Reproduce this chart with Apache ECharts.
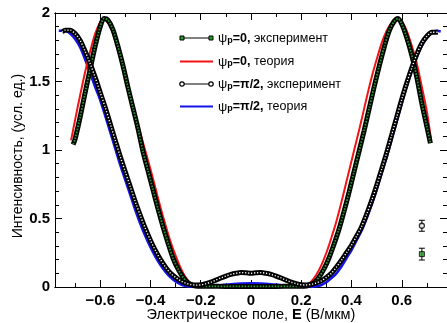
<!DOCTYPE html>
<html>
<head>
<meta charset="utf-8">
<script src="https://cdn.jsdelivr.net/npm/echarts@6/dist/echarts.min.js"></script>
<style>
  html, body { margin: 0; padding: 0; background: #fff; }
  #chart { width: 447px; height: 323px; }
</style>
</head>
<body>
<div id="chart"></div>
<script>
// Electric field, V/um (x) and intensity, arb. units (y)

// psi_p = 0, theory
const theory0X = [-0.716,-0.70,-0.68,-0.66,-0.64,-0.62,-0.60,-0.59,-0.58,-0.56,-0.54,-0.52,-0.50,-0.48,-0.46,-0.44,-0.42,-0.40,-0.38,-0.36,-0.34,-0.32,-0.30,-0.28,-0.26,-0.24,-0.22,-0.20,-0.15,-0.10,-0.05,0,0.05,0.10,0.15,0.20,0.22,0.24,0.26,0.28,0.30,0.32,0.34,0.36,0.38,0.40,0.42,0.44,0.46,0.48,0.50,0.52,0.54,0.56,0.58,0.59,0.60,0.62,0.64,0.66,0.68,0.70,0.716];
const theory0Y = [1.07,1.22,1.40,1.57,1.72,1.85,1.935,1.955,1.95,1.90,1.80,1.67,1.53,1.38,1.24,1.12,0.99,0.86,0.72,0.58,0.45,0.33,0.23,0.14,0.07,0.025,0.005,0,0.001,0.002,0.003,0.003,0.003,0.002,0.001,0,0.01,0.04,0.09,0.16,0.25,0.36,0.48,0.62,0.77,0.92,1.07,1.22,1.38,1.53,1.66,1.78,1.87,1.93,1.955,1.955,1.94,1.87,1.76,1.63,1.46,1.28,1.08];

// psi_p = 0, experiment
const exp0X = [-0.708,-0.70,-0.68,-0.66,-0.64,-0.62,-0.60,-0.585,-0.57,-0.55,-0.53,-0.51,-0.49,-0.47,-0.45,-0.43,-0.41,-0.39,-0.37,-0.35,-0.33,-0.31,-0.29,-0.27,-0.25,-0.23,-0.21,-0.15,-0.10,-0.05,0,0.05,0.10,0.15,0.21,0.23,0.25,0.27,0.29,0.31,0.33,0.35,0.37,0.39,0.41,0.43,0.45,0.47,0.49,0.51,0.53,0.55,0.57,0.585,0.60,0.62,0.64,0.66,0.68,0.70,0.714];
const exp0Y = [1.04,1.08,1.24,1.42,1.59,1.76,1.90,1.96,1.95,1.88,1.76,1.62,1.46,1.31,1.16,0.99,0.85,0.71,0.57,0.44,0.32,0.21,0.13,0.07,0.03,0.012,0.006,0.005,0.004,0.004,0.004,0.004,0.004,0.005,0.006,0.012,0.03,0.07,0.13,0.21,0.31,0.42,0.55,0.69,0.84,0.99,1.14,1.30,1.46,1.61,1.75,1.87,1.94,1.96,1.92,1.82,1.69,1.53,1.34,1.17,1.05];

// psi_p = pi/2, theory
const theory90X = [-0.765,-0.74,-0.72,-0.70,-0.68,-0.66,-0.64,-0.62,-0.60,-0.58,-0.56,-0.54,-0.52,-0.50,-0.48,-0.46,-0.44,-0.42,-0.40,-0.38,-0.36,-0.34,-0.32,-0.30,-0.28,-0.26,-0.24,-0.22,-0.20,-0.16,-0.12,-0.08,-0.04,0,0.04,0.08,0.12,0.16,0.20,0.22,0.24,0.26,0.28,0.30,0.32,0.34,0.36,0.38,0.40,0.42,0.44,0.46,0.48,0.50,0.52,0.54,0.56,0.58,0.60,0.62,0.64,0.66,0.68,0.70,0.72,0.74,0.755];
const theory90Y = [1.87,1.87,1.85,1.81,1.75,1.66,1.56,1.46,1.365,1.25,1.13,1.01,0.89,0.78,0.67,0.56,0.46,0.37,0.29,0.22,0.16,0.11,0.07,0.04,0.02,0.008,0.002,0,0.001,0.006,0.013,0.02,0.025,0.027,0.025,0.02,0.013,0.006,0.001,0,0.001,0.005,0.015,0.035,0.065,0.10,0.15,0.21,0.27,0.34,0.41,0.50,0.60,0.71,0.83,0.95,1.08,1.21,1.34,1.47,1.58,1.68,1.76,1.82,1.855,1.87,1.865];

// psi_p = pi/2, experiment
const exp90X = [-0.752,-0.74,-0.72,-0.70,-0.68,-0.66,-0.64,-0.62,-0.60,-0.58,-0.56,-0.54,-0.52,-0.50,-0.48,-0.46,-0.44,-0.42,-0.40,-0.38,-0.36,-0.34,-0.32,-0.30,-0.28,-0.26,-0.24,-0.22,-0.20,-0.18,-0.16,-0.14,-0.12,-0.10,-0.08,-0.06,-0.04,-0.02,0,0.02,0.04,0.06,0.08,0.10,0.12,0.14,0.16,0.18,0.20,0.22,0.24,0.26,0.28,0.30,0.32,0.34,0.36,0.38,0.40,0.42,0.44,0.46,0.48,0.50,0.52,0.54,0.56,0.58,0.60,0.62,0.64,0.66,0.68,0.70,0.72,0.744];
const exp90Y = [1.86,1.875,1.875,1.85,1.80,1.72,1.63,1.53,1.42,1.31,1.19,1.07,0.95,0.84,0.73,0.62,0.52,0.425,0.34,0.265,0.20,0.145,0.10,0.07,0.045,0.028,0.018,0.014,0.016,0.024,0.035,0.05,0.066,0.08,0.092,0.10,0.105,0.104,0.10,0.104,0.105,0.10,0.092,0.08,0.066,0.05,0.035,0.024,0.016,0.015,0.02,0.03,0.045,0.07,0.10,0.145,0.195,0.25,0.305,0.37,0.44,0.53,0.63,0.74,0.86,0.98,1.11,1.24,1.37,1.49,1.60,1.70,1.78,1.83,1.86,1.86];

// typical experimental error: [E, I, +/- dI]
const errPi2 = [[0.68, 0.447, 0.04]];
const errZero = [[0.68, 0.24, 0.043]];

// axis ticks
const xMajor = [-0.6, -0.4, -0.2, 0, 0.2, 0.4, 0.6];
const xMinor = [-0.7, -0.5, -0.3, -0.1, 0.1, 0.3, 0.5, 0.7];
const yMajor = [0, 0.5, 1, 1.5, 2];
const yMinor = [0.1,0.2,0.3,0.4,0.6,0.7,0.8,0.9,1.1,1.2,1.3,1.4,1.6,1.7,1.8,1.9];

const FONT = "'Liberation Sans', Arial, sans-serif";
const pairs = (xs, ys) => xs.map((x, i) => [x, ys[i]]);

const xRange = { min: -0.78, max: 0.78 };
const yRange = { min: 0, max: 2 };

function xAxisDef(position, ticks, len, labels) {
  return Object.assign({
    type: 'value', position: position, gridIndex: 0,
    axisLine: { show: true, onZero: false, lineStyle: { color: '#000', width: 1 } },
    axisTick: { show: true, inside: true, length: len, customValues: ticks, lineStyle: { color: '#000', width: 1 } },
    axisLabel: labels ? {
      show: true, customValues: ticks, margin: 6, color: '#000',
      fontFamily: FONT, fontSize: 15, fontWeight: 'bold',
      formatter: v => { const r = Math.round(v * 10) / 10; return r < 0 ? '\u2212' + Math.abs(r) : String(r); }
    } : { show: false },
    splitLine: { show: false }
  }, xRange);
}
function yAxisDef(position, ticks, len, labels) {
  return Object.assign({
    type: 'value', position: position, gridIndex: 0,
    axisLine: { show: true, onZero: false, lineStyle: { color: '#000', width: 1 } },
    axisTick: { show: true, inside: true, length: len, customValues: ticks, lineStyle: { color: '#000', width: 1 } },
    axisLabel: labels ? {
      show: true, customValues: ticks, margin: 5, color: '#000',
      fontFamily: FONT, fontSize: 15, fontWeight: 'bold',
      formatter: v => String(Math.round(v * 10) / 10)
    } : { show: false },
    splitLine: { show: false }
  }, yRange);
}

function errorBars(params, api) {
  const x = api.value(0), y = api.value(1), e = api.value(2);
  const top = api.coord([x, y + e]), bot = api.coord([x, y - e]);
  const hw = 3;
  const st = { stroke: '#000', lineWidth: 1 };
  return { type: 'group', children: [
    { type: 'line', shape: { x1: top[0], y1: top[1], x2: bot[0], y2: bot[1] }, style: st },
    { type: 'line', shape: { x1: top[0] - hw, y1: top[1], x2: top[0] + hw, y2: top[1] }, style: st },
    { type: 'line', shape: { x1: bot[0] - hw, y1: bot[1], x2: bot[0] + hw, y2: bot[1] }, style: st }
  ]};
}

// legend rows
const legendRows = [
  { y: 38, kind: 'exp0', text: '{g|\u03c8}{s|p}{b|=0,}{n| эксперимент}' },
  { y: 61.5, kind: 'red', text: '{g|\u03c8}{s|p}{b|=0,}{n| теория}' },
  { y: 84, kind: 'exp90', text: '{g|\u03c8}{s|p}{b|=\u03c0/2,}{n| эксперимент}' },
  { y: 106.5, kind: 'blue', text: '{g|\u03c8}{s|p}{b|=\u03c0/2,}{n| теория}' }
];
const rich = {
  g: { fontFamily: FONT, fontSize: 13, color: '#000', lineHeight: 16, verticalAlign: 'top' },
  s: { fontFamily: FONT, fontSize: 9, fontWeight: 'bold', color: '#000', lineHeight: 16, verticalAlign: 'top', padding: [4, 0, 0, 0] },
  b: { fontFamily: FONT, fontSize: 12.5, fontWeight: 'bold', color: '#000', lineHeight: 16, verticalAlign: 'top' },
  n: { fontFamily: FONT, fontSize: 12.5, color: '#000', lineHeight: 16, verticalAlign: 'top' }
};
const legendGraphics = [];
const LX1 = 182, LX2 = 211;
legendRows.forEach(r => {
  if (r.kind === 'red' || r.kind === 'blue') {
    legendGraphics.push({ type: 'line', shape: { x1: LX1 - 2, y1: r.y, x2: LX2 + 2, y2: r.y },
      style: { stroke: r.kind === 'red' ? '#f01414' : '#1414e6', lineWidth: 2 } });
  } else {
    legendGraphics.push({ type: 'line', shape: { x1: LX1, y1: r.y, x2: LX2, y2: r.y }, style: { stroke: '#000', lineWidth: 1 } });
    [LX1, LX2].forEach(cx => {
      if (r.kind === 'exp0') {
        legendGraphics.push({ type: 'rect', shape: { x: cx - 2, y: r.y - 2, width: 4, height: 4 },
          style: { fill: '#2a9a2a', stroke: '#000', lineWidth: 1 } });
      } else {
        legendGraphics.push({ type: 'circle', shape: { cx: cx, cy: r.y, r: 2.2 },
          style: { fill: '#fff', stroke: '#000', lineWidth: 1.2 } });
      }
    });
  }
  legendGraphics.push({ type: 'text', x: 218, y: r.y - 6,
    style: { text: r.text, rich: rich, align: 'left', verticalAlign: 'top' } });
});

const chart = echarts.init(document.getElementById('chart'), null, { renderer: 'canvas' });

const bandStyle = { color: '#000', width: 5 };
const option = {
  animation: false,
  backgroundColor: '#fff',
  grid: { left: 55, right: 0, top: 13, bottom: 36, containLabel: false },
  xAxis: [
    xAxisDef('bottom', xMajor, 7, true),
    xAxisDef('bottom', xMinor, 4, false),
    xAxisDef('top', xMajor, 7, false),
    xAxisDef('top', xMinor, 4, false)
  ],
  yAxis: [
    yAxisDef('left', yMajor, 7, true),
    yAxisDef('left', yMinor, 4, false),
    yAxisDef('right', yMajor, 7, false),
    yAxisDef('right', yMinor, 4, false)
  ],
  series: [
    { name: 'ψp=π/2, теория', type: 'line', data: pairs(theory90X, theory90Y), smooth: 0.3,
      showSymbol: false, lineStyle: { color: '#1414e6', width: 2.6 }, z: 2 },
    { name: 'ψp=0, теория', type: 'line', data: pairs(theory0X, theory0Y), smooth: 0.3,
      showSymbol: false, lineStyle: { color: '#f01414', width: 2 }, z: 2 },
    { name: 'ψp=0, эксперимент', type: 'line', data: pairs(exp0X, exp0Y), smooth: 0.3,
      showSymbol: false, lineStyle: bandStyle, z: 3 },
    { name: 'ψp=0, эксперимент (точки)', type: 'line', data: pairs(exp0X, exp0Y), smooth: 0.3,
      showSymbol: false, lineStyle: { color: '#2a9a2a', width: 1.8, type: [1.6, 1.4] }, z: 4 },
    { name: 'ψp=π/2, эксперимент', type: 'line', data: pairs(exp90X, exp90Y), smooth: 0.3,
      showSymbol: false, lineStyle: bandStyle, z: 5 },
    { name: 'ψp=π/2, эксперимент (точки)', type: 'line', data: pairs(exp90X, exp90Y), smooth: 0.3,
      showSymbol: false, lineStyle: { color: '#fff', width: 1.4, type: [1.2, 1.8] }, z: 6 },
    { type: 'custom', renderItem: errorBars, data: errPi2.concat(errZero), encode: { x: 0, y: 1 }, z: 7 },
    { type: 'scatter', data: errPi2.map(d => [d[0], d[1]]), symbol: 'circle', symbolSize: 5,
      itemStyle: { color: '#fff', borderColor: '#000', borderWidth: 1.3 }, z: 8 },
    { type: 'scatter', data: errZero.map(d => [d[0], d[1]]), symbol: 'rect', symbolSize: 5,
      itemStyle: { color: '#2a9a2a', borderColor: '#000', borderWidth: 1 }, z: 8 }
  ],
  graphic: [
    { type: 'text', x: 18, y: 156, rotation: Math.PI / 2,
      style: { text: 'Интенсивность, (усл. ед.)', fontFamily: FONT, fontSize: 14, fill: '#000',
               align: 'center', verticalAlign: 'middle' } },
    { type: 'text', x: 251, y: 314.5,
      style: { text: '{n|Электрическое поле, }{b|E}{n| (В/мкм)}', align: 'center', verticalAlign: 'middle',
               rich: { n: { fontFamily: FONT, fontSize: 14.5, color: '#000' },
                       b: { fontFamily: FONT, fontSize: 14.5, fontWeight: 'bold', color: '#000' } } } }
  ].concat(legendGraphics)
};
chart.setOption(option);
</script>
</body>
</html>
